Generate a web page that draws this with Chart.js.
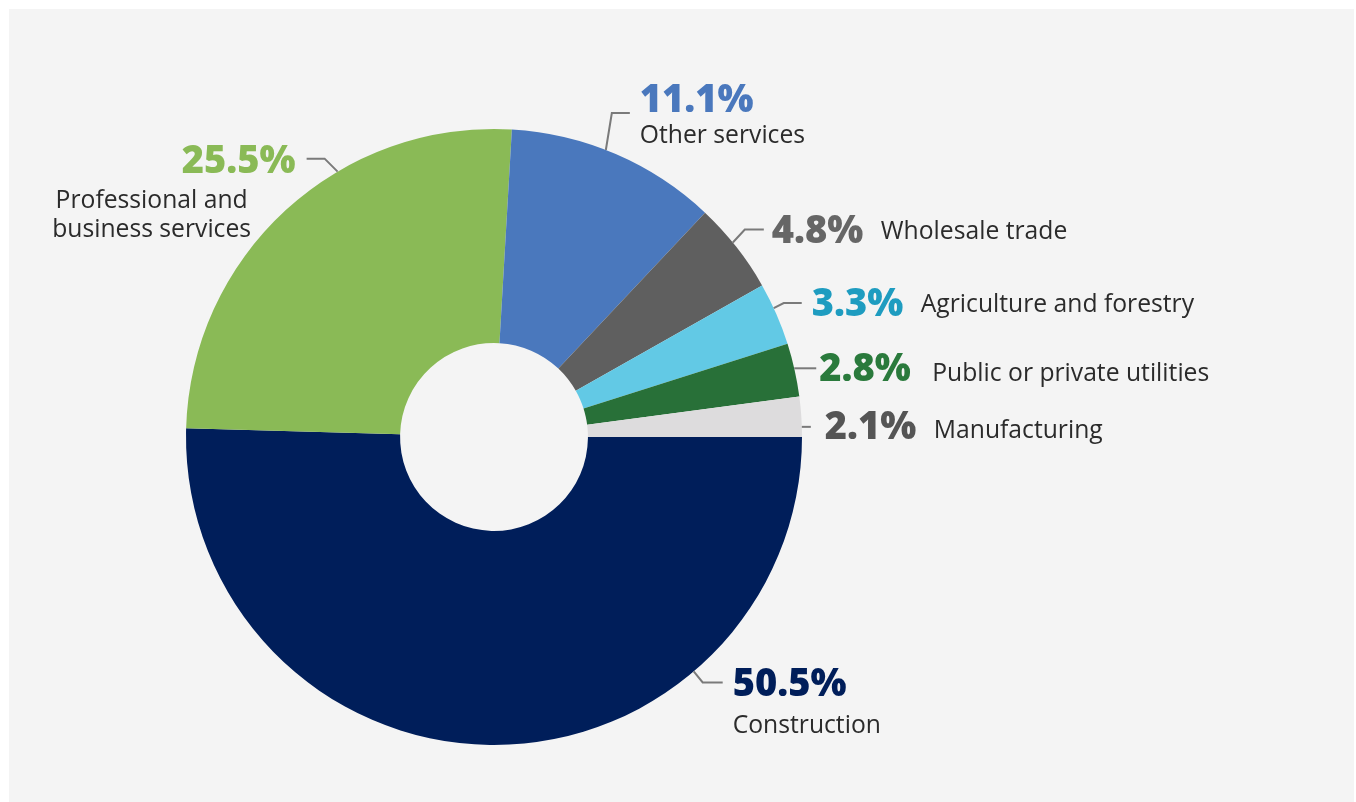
<!DOCTYPE html>
<html>
<head>
<meta charset="utf-8">
<script src="https://cdn.jsdelivr.net/npm/chart.js@4"></script>
<style>
  body { margin: 0; background: #ffffff; }
  #box { position: absolute; left: 9px; top: 9px; width: 1345px; height: 793px; background: #f4f4f4; }
  #chart { position: absolute; left: 0; top: 0; }
</style>
</head>
<body>
<div id="box"></div>
<canvas id="chart" width="1356" height="802"></canvas>
<script>
// Data
const categories = [
  "Construction",
  "Professional and\nbusiness services",
  "Other services",
  "Wholesale trade",
  "Agriculture and forestry",
  "Public or private utilities",
  "Manufacturing"
];
const shares = [50.5, 25.5, 11.1, 4.8, 3.3, 2.8, 2.1];
const sliceColors = ["#001e5a", "#8aba56", "#4a78bd", "#5f5f5f", "#62c9e5", "#287038", "#dddcdd"];
const pctColors = ["#001e5a", "#8aba56", "#4a78bd", "#666666", "#1e9cc0", "#2a7a3c", "#555555"];

// Label placement: t = where on the slice edge the leader starts,
// elbow = bend offset, run = horizontal run, then text offsets from the line end
const labelLayout = [
  { t: 0.273, elbow: [9, 11], run: 20, pct: [10, 14, "left"], lab: [10, 51, "left"] },
  { t: 0.631, elbow: [-13, -13], run: -18, pct: [-11, 14, "right"], lab: [-155, 49, "center"] },
  { t: 0.45, elbow: [6, -37], run: 18, pct: [10, -1, "left"], lab: [10, 30, "left"] },
  { t: 0.44, elbow: [12, -13], run: 19, pct: [8, 13, "left"], lab: [117, 9, "left"] },
  { t: 0.40, elbow: [10, -5], run: 18, pct: [10, 13, "left"], lab: [119, 9, "left"] },
  { t: 0.47, elbow: [0, 0], run: 22, pct: [3, 13, "left"], lab: [116, 13, "left"] },
  { t: 0.75, elbow: [0, 0], run: 9, pct: [14, 12, "left"], lab: [123, 11, "left"] }
];

const FONT = '"Open Sans", "Noto Sans", sans-serif';

const leaderLabels = {
  id: "leaderLabels",
  afterDatasetsDraw(chart) {
    const c = chart.ctx;
    const arcs = chart.getDatasetMeta(0).data;
    arcs.forEach((arc, i) => {
      const p = arc.getProps(["x", "y", "startAngle", "endAngle", "outerRadius"], true);
      const L = labelLayout[i];
      const a = p.startAngle + L.t * (p.endAngle - p.startAngle);
      const sx = p.x + p.outerRadius * Math.cos(a);
      const sy = p.y + p.outerRadius * Math.sin(a);
      const bx = sx + L.elbow[0], by = sy + L.elbow[1];
      const ex = bx + L.run, ey = by;

      c.save();
      c.strokeStyle = "#7a7a7a";
      c.lineWidth = 2;
      c.beginPath();
      c.moveTo(sx, sy);
      c.lineTo(bx, by);
      c.lineTo(ex, ey);
      c.stroke();

      c.textBaseline = "alphabetic";
      c.fillStyle = pctColors[i];
      c.font = "800 38px " + FONT;
      c.textAlign = L.pct[2];
      c.fillText(shares[i].toFixed(1) + "%", ex + L.pct[0], ey + L.pct[1]);

      c.fillStyle = "#2b2b2b";
      c.font = "400 24.7px " + FONT;
      c.textAlign = L.lab[2];
      categories[i].split("\n").forEach((line, k) => {
        c.fillText(line, ex + L.lab[0], ey + L.lab[1] + k * 29);
      });
      c.restore();
    });
  }
};

new Chart(document.getElementById("chart").getContext("2d"), {
  type: "doughnut",
  data: {
    labels: categories,
    datasets: [{
      data: shares,
      backgroundColor: sliceColors,
      borderWidth: 0
    }]
  },
  options: {
    responsive: false,
    animation: false,
    rotation: 90,
    cutout: "30.5%",
    layout: { padding: { left: 186, top: 129, right: 554, bottom: 57 } },
    plugins: {
      legend: { display: false },
      tooltip: { enabled: false }
    }
  },
  plugins: [leaderLabels]
});
</script>
</body>
</html>
